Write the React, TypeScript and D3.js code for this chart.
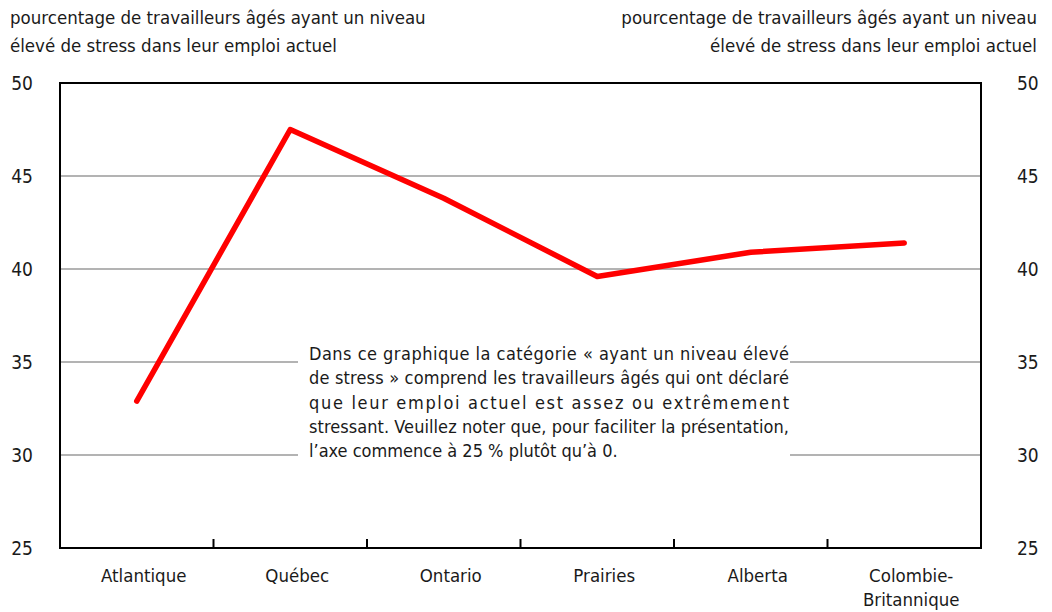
import React from 'react';
import { scaleBand, scaleLinear, line } from 'd3';

// régions et pourcentages
const categories = ['Atlantique', 'Québec', 'Ontario', 'Prairies', 'Alberta', 'Colombie-Britannique'];
const categoryLines = [['Atlantique'], ['Québec'], ['Ontario'], ['Prairies'], ['Alberta'], ['Colombie-', 'Britannique']];
const values = [32.9, 47.5, 43.8, 39.6, 40.9, 41.4];
const yTicks = [25, 30, 35, 40, 45, 50];
const gridTicks = [30, 35, 40, 45];
const axisTitle = ['pourcentage de travailleurs âgés ayant un niveau', 'élevé de stress dans leur emploi actuel'];
const noteLines = [
  'Dans ce graphique la catégorie « ayant un niveau élevé',
  'de stress » comprend les travailleurs âgés qui ont déclaré',
  'que leur emploi actuel est assez ou extrêmement',
  'stressant. Veuillez noter que, pour faciliter la présentation,',
  'l’axe commence à 25 % plutôt qu’à 0.',
];

const W = 1052;
const H = 612;
const left = 60;
const right = 981;
const top = 83;
const bottom = 548;
const font = '"Liberation Sans Narrow", "DejaVu Sans Condensed", "Roboto", sans-serif';
const ink = '#1a1a1a';

export default function App() {
  const x = scaleBand<string>().domain(categories).range([left, right]);
  const y = scaleLinear().domain([25, 50]).range([bottom, top]);
  const cx = (c: string) => (x(c) as number) + x.bandwidth() / 2;

  const path = line<number>()
    .x((d, i) => cx(categories[i]))
    .y(d => y(d));

  const noteX = 309;
  const noteY0 = 360;
  const noteStep = 24.3;

  return (
    <svg
      xmlns="http://www.w3.org/2000/svg"
      width={W}
      height={H}
      viewBox={`0 0 ${W} ${H}`}
      style={{ position: 'absolute', left: 0, top: 0, background: '#fff' }}
      fontFamily={font}
    >
      {/* titres d'axe */}
      {axisTitle.map((t, i) => (
        <text key={'l' + i} x={10} y={24 + i * 28} fontSize={18.5} fill={ink}>
          {t}
        </text>
      ))}
      {axisTitle.map((t, i) => (
        <text key={'r' + i} x={1037} y={24 + i * 28} fontSize={18.5} fill={ink} textAnchor="end">
          {t}
        </text>
      ))}

      {/* grille */}
      {gridTicks.map(t => (
        <line key={t} x1={left} x2={right} y1={y(t)} y2={y(t)} stroke="#9a9a9a" strokeWidth={1.5} />
      ))}

      {/* étiquettes de l'axe y */}
      {yTicks.map(t => (
        <g key={t}>
          <text x={33} y={y(t)} dy="0.36em" fontSize={19} textAnchor="end" fill={ink}>
            {t}
          </text>
          <text x={1017} y={y(t)} dy="0.36em" fontSize={19} fill={ink}>
            {t}
          </text>
        </g>
      ))}

      {/* note */}
      <rect x={298} y={338} width={492} height={128} fill="#fff" />
      {noteLines.map((t, i) => (
        <text
          key={i}
          x={noteX}
          y={noteY0 + i * noteStep}
          fontSize={18}
          fill={ink}
          textLength={i < noteLines.length - 1 ? 480 : undefined}
          lengthAdjust="spacing"
        >
          {t}
        </text>
      ))}

      {/* série */}
      <path
        d={path(values) as string}
        fill="none"
        stroke="#ff0000"
        strokeWidth={5.5}
        strokeLinecap="round"
        strokeLinejoin="round"
      />

      {/* cadre */}
      <rect x={left} y={top} width={right - left} height={bottom - top} fill="none" stroke="#000" strokeWidth={2} />
      {categories.slice(1).map(c => (
        <line
          key={c}
          x1={x(c) as number}
          x2={x(c) as number}
          y1={bottom}
          y2={bottom - 9}
          stroke="#000"
          strokeWidth={2}
        />
      ))}

      {/* étiquettes de catégories */}
      {categoryLines.map((ls, i) => (
        <text key={i} y={582} fontSize={18.5} textAnchor="middle" fill={ink}>
          {ls.map((l, j) => (
            <tspan key={j} x={cx(categories[i]) + 7} dy={j === 0 ? 0 : 24}>
              {l}
            </tspan>
          ))}
        </text>
      ))}
    </svg>
  );
}
